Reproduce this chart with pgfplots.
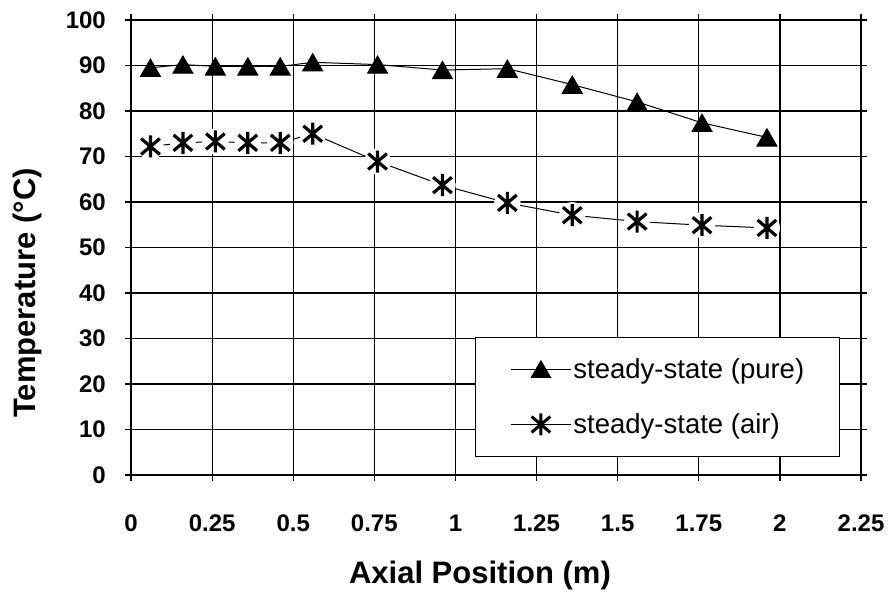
\documentclass[border=0pt]{standalone}
\usepackage{fontspec}
\setmainfont{Liberation Sans}
\usepackage{pgfplots}
\pgfplotsset{compat=1.18}

% Excel-like star: vertical stroke crossed by an X
\pgfdeclareplotmark{xstar}{%
  \pgfpathmoveto{\pgfqpoint{0pt}{\pgfplotmarksize}}%
  \pgfpathlineto{\pgfqpoint{0pt}{-\pgfplotmarksize}}%
  \pgfpathmoveto{\pgfqpoint{-0.85\pgfplotmarksize}{0.72\pgfplotmarksize}}%
  \pgfpathlineto{\pgfqpoint{0.85\pgfplotmarksize}{-0.72\pgfplotmarksize}}%
  \pgfpathmoveto{\pgfqpoint{-0.85\pgfplotmarksize}{-0.72\pgfplotmarksize}}%
  \pgfpathlineto{\pgfqpoint{0.85\pgfplotmarksize}{0.72\pgfplotmarksize}}%
  \pgfusepathqstroke}

\begin{document}
\begin{tikzpicture}[x=1pt,y=1pt]
\useasboundingbox (0,0) rectangle (888,594);
\begin{axis}[
  at={(131pt,119pt)}, anchor=south west,
  width=730pt, height=455pt, scale only axis,
  xmin=0, xmax=2.25, ymin=0, ymax=100,
  xtick={0,0.25,0.5,0.75,1,1.25,1.5,1.75,2,2.25},
  xticklabels={0,0.25,0.5,0.75,1,1.25,1.5,1.75,2,2.25},
  ytick={0,10,...,100},
  /pgf/number format/assume math mode=true,
  tick label style={font=\fontsize{24}{24}\selectfont\bfseries},
  yticklabel style={inner sep=0pt, anchor=east, xshift=-19pt},
  xticklabel style={inner sep=0pt, anchor=north, yshift=-34pt},
  tick align=outside, major tick length=6pt,
  tick style={black, line width=1.2pt},
  grid=major, grid style={black, line width=1.2pt},
  axis line style={black, line width=1.8pt},
  xlabel={Axial Position (m)},
  ylabel={Temperature (°C)},
  every axis x label/.style={at={(axis description cs:0.478,-0.22)}, anchor=center,
    font=\fontsize{31}{31}\selectfont\bfseries},
  every axis y label/.style={at={(axis description cs:-0.142,0.40)}, rotate=90, anchor=center,
    font=\fontsize{31}{31}\selectfont\bfseries},
  legend image code/.code={\path (-2pt,0pt); \draw[mark repeat=2,mark phase=2,#1] plot coordinates {(0pt,0pt)(30pt,0pt)(60pt,0pt)};},
  legend style={at={(0.971,0.04)}, anchor=south east, draw=black, line width=1.2pt,
    fill=white, inner xsep=33pt, inner ysep=19pt, row sep=30pt,
    font=\fontsize{27.5}{27.5}\selectfont, nodes={inner sep=2pt}},
  legend cell align=left,
]
% steady-state (pure)
\addplot[black, line width=1pt, mark=triangle*, mark size=11.5pt,
  mark options={yshift=-2.9pt}, forget plot]
  coordinates {(0.06,89.5)(0.16,90.2)(0.26,89.8)(0.36,89.8)(0.46,89.8)(0.56,90.7)
    (0.76,90.2)(0.96,89.0)(1.16,89.3)(1.36,85.8)(1.56,82.0)(1.76,77.4)(1.96,74.2)};
% steady-state (air): line, white halo, then the stars
\addplot[black, line width=1pt, forget plot]
  coordinates {(0.06,72.2)(0.16,73.0)(0.26,73.3)(0.36,73.0)(0.46,73.0)(0.56,75.0)
    (0.76,68.9)(0.96,63.7)(1.16,59.8)(1.36,57.1)(1.56,55.7)(1.76,54.9)(1.96,54.3)};
\addplot[only marks, mark=*, mark size=13pt, white, forget plot]
  coordinates {(0.06,72.2)(0.16,73.0)(0.26,73.3)(0.36,73.0)(0.46,73.0)(0.56,75.0)
    (0.76,68.9)(0.96,63.7)(1.16,59.8)(1.36,57.1)(1.56,55.7)(1.76,54.9)(1.96,54.3)};
\addplot[only marks, black, mark=xstar, mark size=11pt, line width=3.2pt, forget plot]
  coordinates {(0.06,72.2)(0.16,73.0)(0.26,73.3)(0.36,73.0)(0.46,73.0)(0.56,75.0)
    (0.76,68.9)(0.96,63.7)(1.16,59.8)(1.36,57.1)(1.56,55.7)(1.76,54.9)(1.96,54.3)};
\addlegendimage{black, line width=1pt, mark=triangle*, mark size=11pt, mark options={yshift=-2.75pt}}
\addlegendentry{steady-state (pure)}
\addlegendimage{black, line width=1pt, mark=xstar, mark size=11pt, mark options={line width=3pt}}
\addlegendentry{steady-state (air)}
\end{axis}
\end{tikzpicture}
\end{document}
